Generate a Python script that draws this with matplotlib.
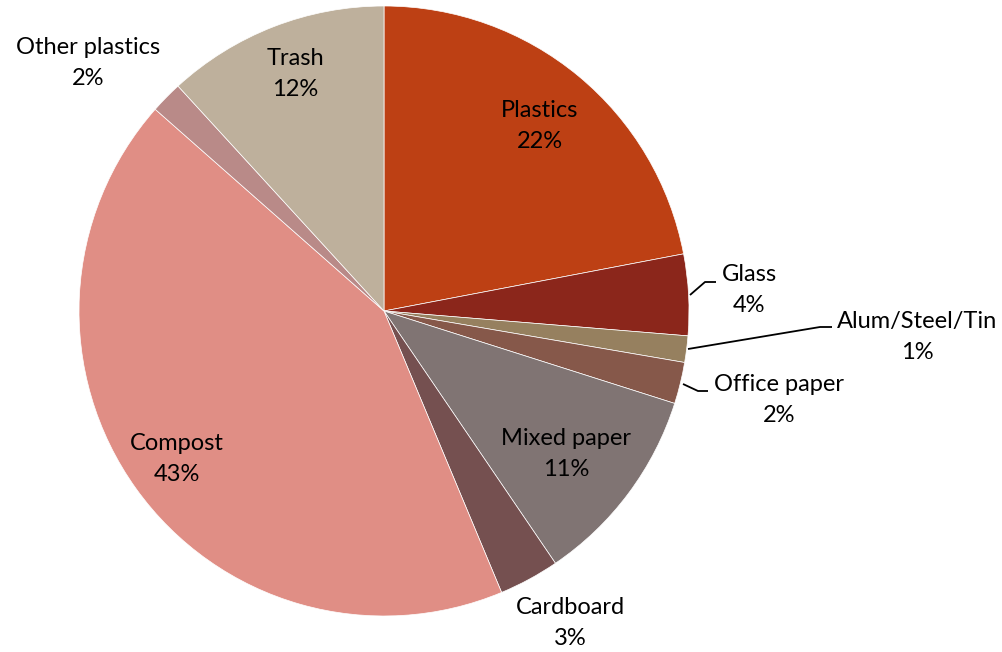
import matplotlib
matplotlib.use("Agg")
import matplotlib.pyplot as plt

# Share of collected material by stream (percent)
categories = ["Plastics", "Glass", "Alum/Steel/Tin", "Office paper", "Mixed paper",
              "Cardboard", "Compost", "Other plastics", "Trash"]
shares = [22.0, 4.3, 1.4, 2.2, 10.6, 3.2, 42.8, 1.7, 11.8]

colors = ["#BD4014", "#8B261B", "#96805F", "#86584A", "#807473",
          "#755050", "#E08E85", "#B98A88", "#BEB09C"]

W, H, DPI = 1002, 652, 100
CX, CY, R = 384, 311, 305  # pie centre and radius in pixels


def to_data(px, py):
    return (px - CX) / R, (CY - py) / R


# Label centres (pixels) and leader lines for the outside labels
label_pos = {
    "Plastics": (540, 126), "Glass": (749, 290), "Alum/Steel/Tin": (917, 337),
    "Office paper": (779, 400), "Mixed paper": (566, 454), "Cardboard": (570, 623),
    "Compost": (177, 459), "Other plastics": (88, 63), "Trash": (295, 74),
}
leaders = {
    "Glass": [(690, 295), (705, 282), (716, 282)],
    "Alum/Steel/Tin": [(688, 349), (820, 327), (832, 327)],
    "Office paper": [(683, 384), (698, 391), (708, 391)],
}

plt.rcParams["font.family"] = ["Lato", "DejaVu Sans"]

fig = plt.figure(figsize=(W / DPI, H / DPI), dpi=DPI)
ax = fig.add_axes([0, 0, 1, 1])

ax.pie(shares, colors=colors, startangle=90, counterclock=False, radius=1.0,
       wedgeprops=dict(edgecolor="white", linewidth=0.5))

ax.set_xlim(-CX / R, (W - CX) / R)
ax.set_ylim(-(H - CY) / R, CY / R)
ax.set_aspect("auto")
ax.axis("off")

for name, value in zip(categories, shares):
    x, y = to_data(*label_pos[name])
    ax.text(x, y, f"{name}\n{round(value):.0f}%", ha="center", va="center",
            fontsize=17, color="#000000", linespacing=1.55)

for name, pts in leaders.items():
    xs, ys = zip(*[to_data(px, py) for px, py in pts])
    ax.plot(xs, ys, color="#000000", linewidth=1.3, solid_capstyle="butt")

fig.savefig("out.png", dpi=DPI)
